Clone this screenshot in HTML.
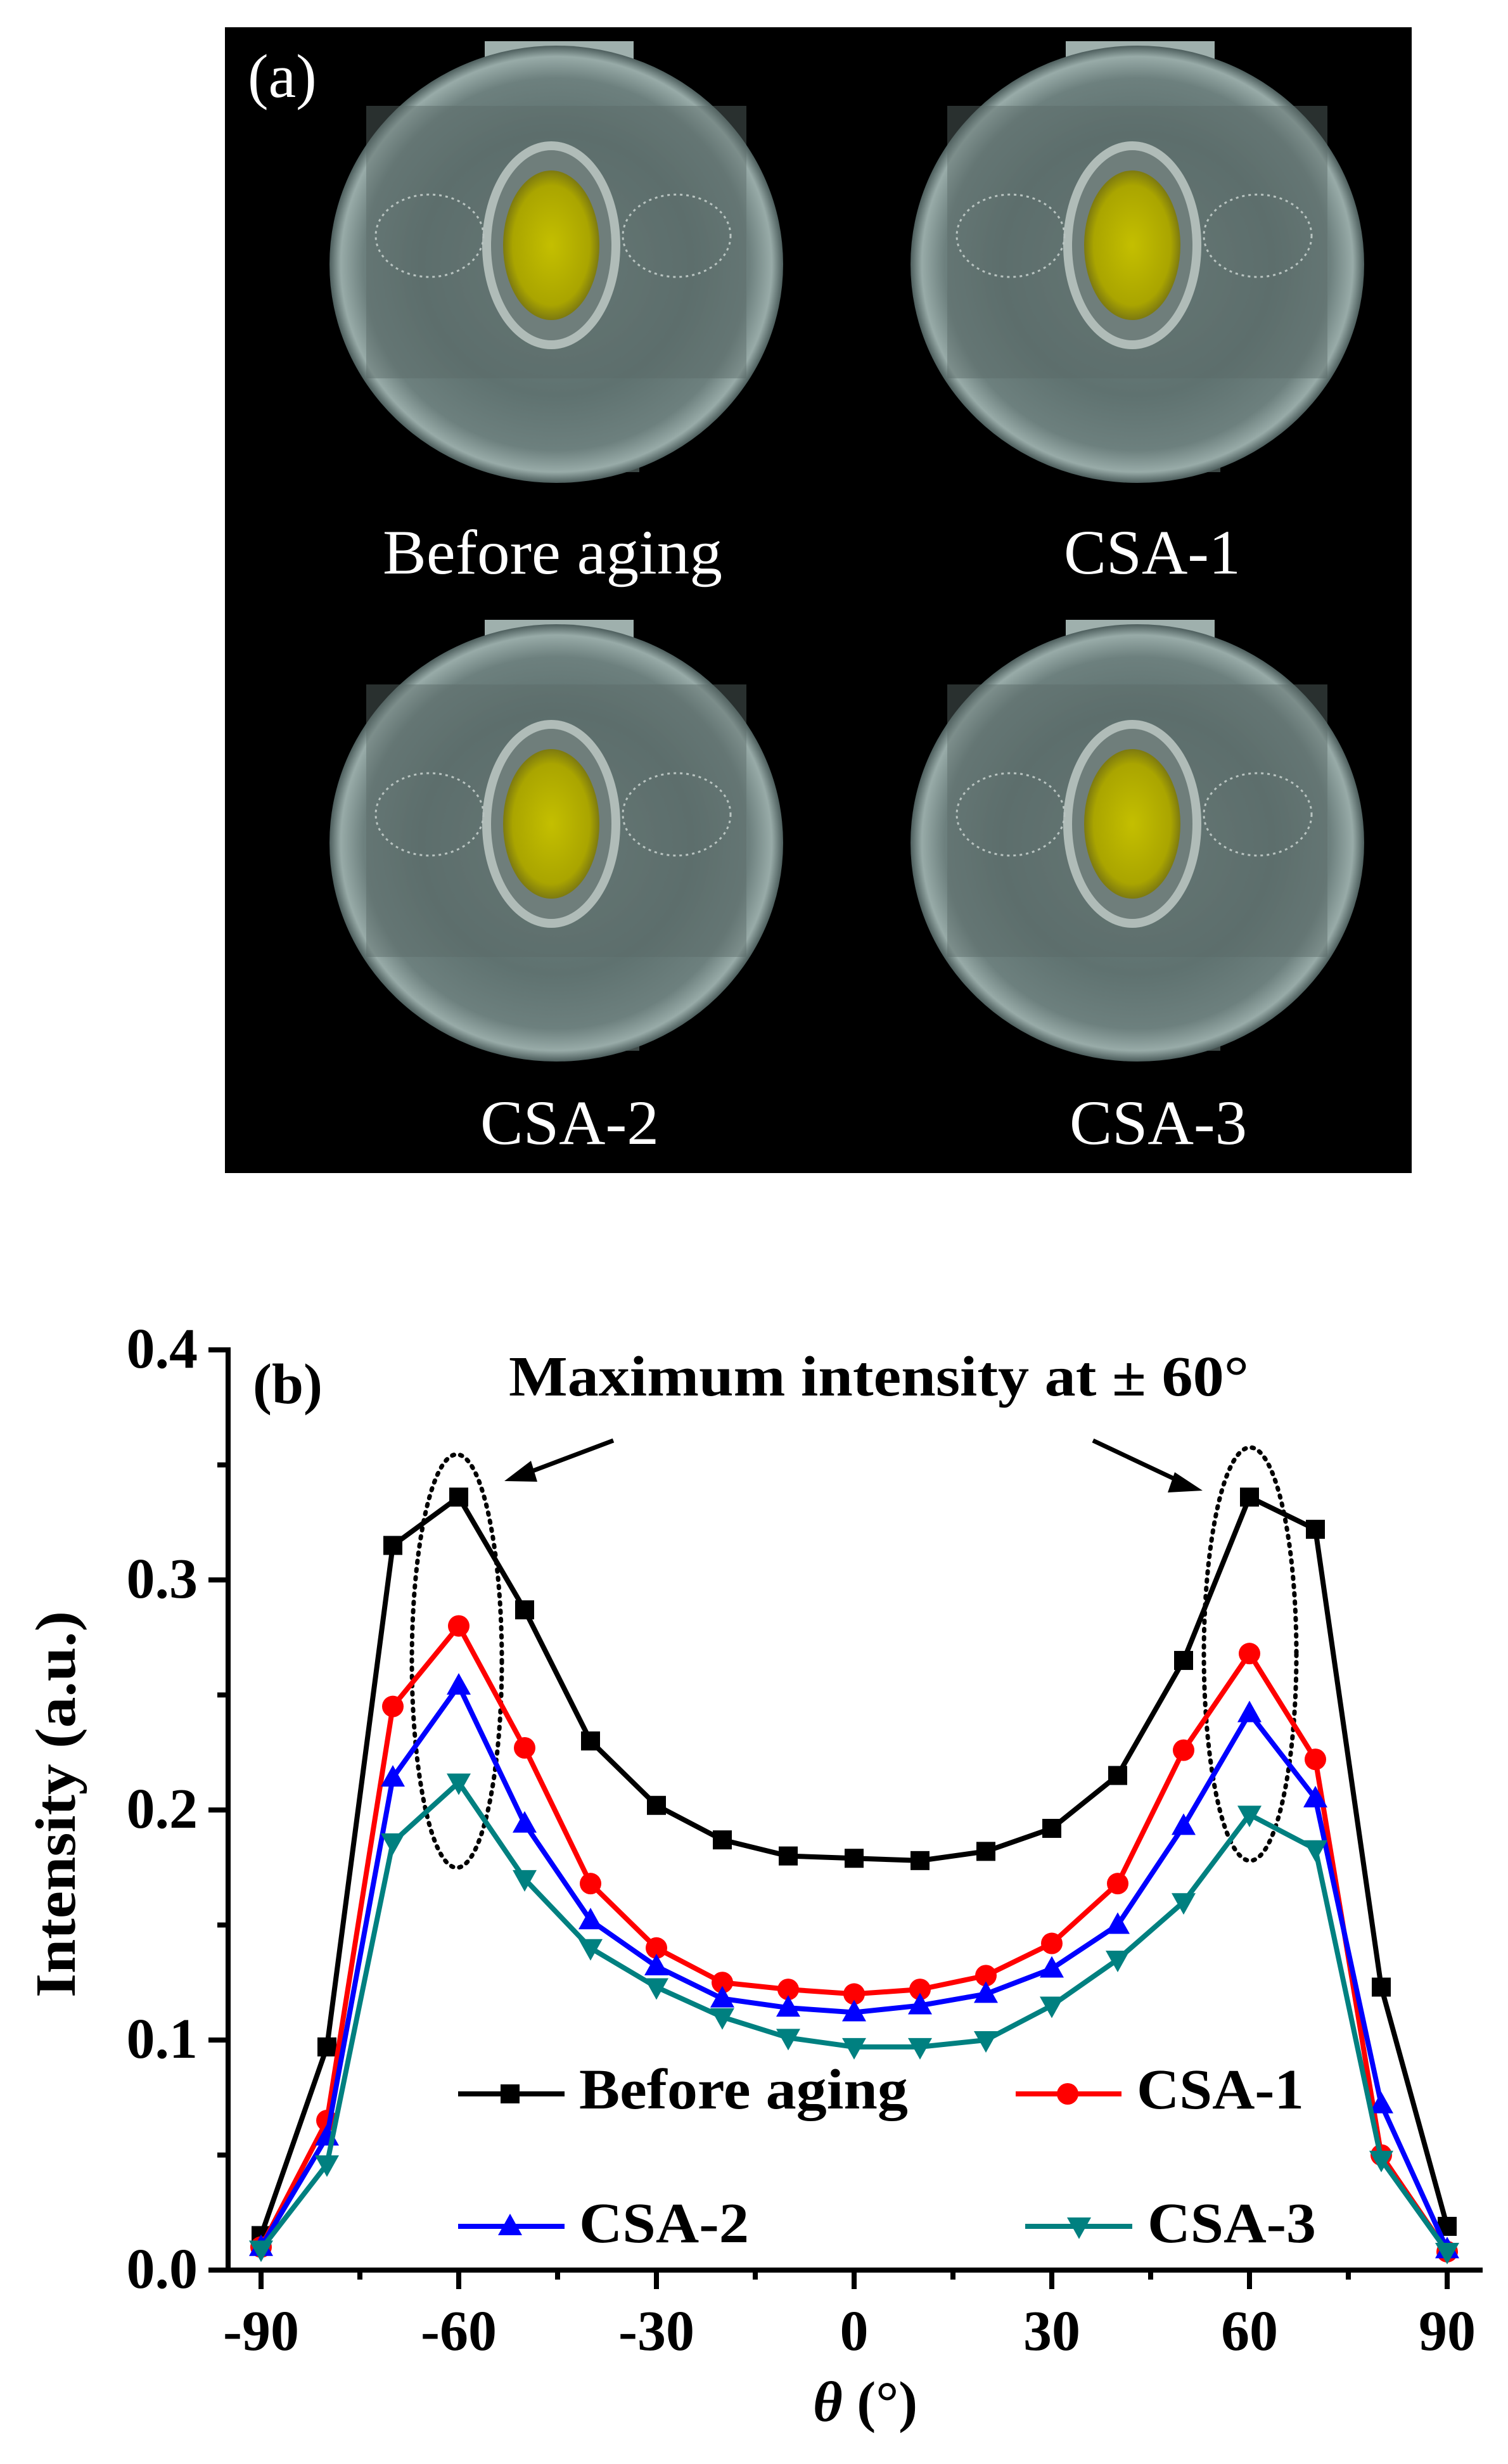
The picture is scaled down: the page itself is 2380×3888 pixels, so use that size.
<!DOCTYPE html>
<html><head><meta charset="utf-8"><style>
html,body{margin:0;padding:0;background:#fff;}
svg{display:block;}
</style></head><body>
<svg id="s" width="2380" height="3888" viewBox="0 0 2380 3888" xmlns="http://www.w3.org/2000/svg">
<defs>
<radialGradient id="sph" cx="50%" cy="50%" r="50%">
<stop offset="0" stop-color="#6f8280"/>
<stop offset="0.6" stop-color="#5f7270"/>
<stop offset="0.85" stop-color="#6d807e"/>
<stop offset="0.95" stop-color="#98aba8"/>
<stop offset="1" stop-color="#4d5e5d"/>
</radialGradient>
<radialGradient id="yel" cx="50%" cy="50%" r="50%">
<stop offset="0" stop-color="#c4bf00"/>
<stop offset="0.8" stop-color="#aaa500"/>
<stop offset="1" stop-color="#7d7a10"/>
</radialGradient>
</defs>
<rect x="355" y="43" width="1873" height="1808" fill="#000"/>
<g id="spheres"></g>
<g font-family="Liberation Serif, serif" fill="#fff">
<text x="391" y="153" font-size="98">(a)</text>
<text x="604" y="905" font-size="100" textLength="536" lengthAdjust="spacingAndGlyphs">Before aging</text>
<text x="1679" y="905" font-size="100" textLength="279" lengthAdjust="spacingAndGlyphs">CSA-1</text>
<text x="758" y="1805" font-size="100" textLength="282" lengthAdjust="spacingAndGlyphs">CSA-2</text>
<text x="1688" y="1805" font-size="100" textLength="280" lengthAdjust="spacingAndGlyphs">CSA-3</text>
</g>

<g stroke="#000" stroke-width="8" fill="none">
<line x1="360" y1="2126" x2="360" y2="3586"/>
<line x1="329" y1="3582" x2="2340" y2="3582"/>
</g>
<g id="ticks" stroke="#000" stroke-width="8"></g>
<g font-family="Liberation Serif, serif" font-weight="bold" font-size="90" fill="#000">
<text x="312" y="2158" text-anchor="end">0.4</text>
<text x="312" y="2521" text-anchor="end">0.3</text>
<text x="312" y="2884" text-anchor="end">0.2</text>
<text x="312" y="3247" text-anchor="end">0.1</text>
<text x="312" y="3610" text-anchor="end">0.0</text>
<text x="412" y="3708" text-anchor="middle">-90</text>
<text x="724" y="3708" text-anchor="middle">-60</text>
<text x="1036" y="3708" text-anchor="middle">-30</text>
<text x="1348" y="3708" text-anchor="middle">0</text>
<text x="1660" y="3708" text-anchor="middle">30</text>
<text x="1972" y="3708" text-anchor="middle">60</text>
<text x="2284" y="3708" text-anchor="middle">90</text>
<text x="399" y="2214">(b)</text>
<text x="803" y="2202" textLength="1168" lengthAdjust="spacingAndGlyphs">Maximum intensity at ±  60°</text>
<text transform="translate(118,2847) rotate(-90)" text-anchor="middle" textLength="610" lengthAdjust="spacingAndGlyphs">Intensity (a.u.)</text>
<text x="1283" y="3820"><tspan font-style="italic">θ</tspan> (°)</text>
<text x="914" y="3327" textLength="519" lengthAdjust="spacingAndGlyphs">Before aging</text>
<text x="1794" y="3327" textLength="264" lengthAdjust="spacingAndGlyphs">CSA-1</text>
<text x="914" y="3538" textLength="268" lengthAdjust="spacingAndGlyphs">CSA-2</text>
<text x="1811" y="3538" textLength="266" lengthAdjust="spacingAndGlyphs">CSA-3</text>
</g>
<g stroke="#000" stroke-width="7" fill="#000">
<line x1="968" y1="2273" x2="830" y2="2325"/>
<polygon points="796,2337 838,2305 848,2338" stroke="none"/>
<line x1="1725" y1="2273" x2="1863" y2="2338"/>
<polygon points="1898,2352 1854,2323 1843,2355" stroke="none"/>
</g>
<g fill="none" stroke="#000" stroke-width="7" stroke-dasharray="3 10" stroke-linecap="round">
<ellipse cx="721" cy="2621" rx="71" ry="326"/>
<ellipse cx="1973" cy="2610" rx="73" ry="326"/>
</g>
<g id="series"></g>
</svg>
<script>
var NS="http://www.w3.org/2000/svg";
function el(t,a,p){var e=document.createElementNS(NS,t);for(var k in a)e.setAttribute(k,a[k]);p.appendChild(e);return e;}
var sp=document.getElementById('spheres');
[[878,417],[1795,417],[878,1330],[1795,1330]].forEach(function(c,i){
 var cx=c[0],cy=c[1];
 el('rect',{x:cx-113,y:cy-352,width:235,height:40,fill:'#9fb0ad'},sp);
 el('rect',{x:cx-104,y:cy+276,width:235,height:52,fill:'#3d4846'},sp);
 el('ellipse',{cx:cx,cy:cy,rx:358,ry:345,fill:'url(#sph)'},sp);
 el('rect',{x:cx-300,y:cy-250,width:600,height:430,fill:'#5a6b69',opacity:0.45},sp);
 var lx=cx-8, ly=cy-30;
 el('ellipse',{cx:lx,cy:ly,rx:109,ry:164,fill:'#b0bcb8'},sp);
 el('ellipse',{cx:lx,cy:ly,rx:95,ry:150,fill:'#6f7e7b'},sp);
 el('ellipse',{cx:lx,cy:ly,rx:76,ry:118,fill:'url(#yel)'},sp);
 el('ellipse',{cx:cx-200,cy:cy-45,rx:85,ry:65,fill:'none',stroke:'#b9c4c1','stroke-width':3,'stroke-dasharray':'4 6'},sp);
 el('ellipse',{cx:cx+190,cy:cy-45,rx:85,ry:65,fill:'none',stroke:'#b9c4c1','stroke-width':3,'stroke-dasharray':'4 6'},sp);
});
var tk=document.getElementById('ticks');
for(var i=0;i<=8;i++){var y=3582-i*181.5;var L=(i%2==0)?31:17;el('line',{x1:360-L,y1:y,x2:360,y2:y},tk);}
function X(t){return 1348+10.4*t;}
for(var t=-90;t<=90;t+=15){var x=X(t);var L=(t%30==0)?30:15;el('line',{x1:x,y1:3582,x2:x,y2:3582+L},tk);}
var th=[];for(var t=-90;t<=90;t+=10)th.push(t);
var D=[
 ['#000','sq',[.015,.097,.315,.336,.287,.230,.202,.187,.180,.179,.178,.182,.192,.215,.265,.336,.322,.123,.019]],
 ['#ff0000','ci',[.010,.065,.245,.280,.227,.168,.140,.125,.122,.120,.122,.128,.142,.168,.226,.268,.222,.050,.008]],
 ['#0000ff','up',[.010,.058,.214,.254,.194,.152,.132,.118,.114,.112,.115,.120,.131,.150,.193,.242,.205,.072,.009]],
 ['#008080','dn',[.009,.046,.186,.212,.170,.140,.123,.110,.101,.097,.097,.100,.115,.135,.160,.198,.183,.048,.008]]
];
var g=document.getElementById('series');
function mk(type,x,y,c){
 if(type=='sq')el('rect',{x:x-15,y:y-15,width:30,height:30,fill:c},g);
 else if(type=='ci')el('circle',{cx:x,cy:y,r:17,fill:c},g);
 else if(type=='up')el('polygon',{points:(x)+','+(y-20)+' '+(x-19)+','+(y+14)+' '+(x+19)+','+(y+14),fill:c},g);
 else el('polygon',{points:(x)+','+(y+20)+' '+(x-19)+','+(y-14)+' '+(x+19)+','+(y-14),fill:c},g);
}
D.forEach(function(s){
 var pts=s[2].map(function(v,i){return [X(th[i]),3582-v*3630];});
 el('polyline',{points:pts.map(function(p){return p.join(',')}).join(' '),fill:'none',stroke:s[0],'stroke-width':8,'stroke-linejoin':'round'},g);
 pts.forEach(function(p){mk(s[1],p[0],p[1],s[0]);});
});
[[723,891,805,3304,0],[1603,1770,1685,3304,1],[723,891,805,3513,2],[1618,1787,1703,3513,3]].forEach(function(l){
 var s=D[l[4]];
 el('line',{x1:l[0],y1:l[3],x2:l[1],y2:l[3],stroke:s[0],'stroke-width':8},g);
 mk(s[1],l[2],l[3],s[0]);
});
</script>
</body></html>
